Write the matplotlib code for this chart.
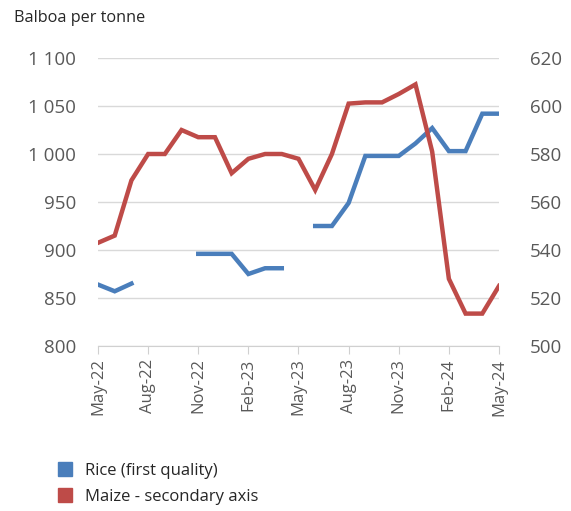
import matplotlib
matplotlib.use("Agg")
import matplotlib.pyplot as plt
from matplotlib.lines import Line2D
import numpy as np

months = ["May-22", "Jun-22", "Jul-22", "Aug-22", "Sep-22", "Oct-22", "Nov-22", "Dec-22",
          "Jan-23", "Feb-23", "Mar-23", "Apr-23", "May-23", "Jun-23", "Jul-23", "Aug-23",
          "Sep-23", "Oct-23", "Nov-23", "Dec-23", "Jan-24", "Feb-24", "Mar-24", "Apr-24", "May-24"]
nan = np.nan
rice = [864, 857, 865, nan, nan, nan, 896, 896, 896, 875, 881, 881, nan, 925, 925, 949,
        998, 998, 998, 1011, 1027, 1003, 1003, 1042, 1042]
maize = [543, 546, 569, 580, 580, 590, 587, 587, 572, 578, 580, 580, 578, 565, 580, 601,
         601.5, 601.5, 605, 609, 581, 528, 513.5, 513.5, 525]
tick_every = 3

plt.rcParams['font.family'] = ['Open Sans', 'DejaVu Sans']
W, H = 571, 511
fig = plt.figure(figsize=(W/100, H/100), dpi=100)
ax = fig.add_axes([98/W, 1-346/H, (499-98)/W, (346-58)/H])
ax2 = ax.twinx()

x = np.arange(len(months))
blue = "#4A7EBB"
red = "#BE4B48"
ax.plot(x, rice, color=blue, lw=3.2, solid_joinstyle='miter', zorder=3)
ax2.plot(x, maize, color=red, lw=3.2, solid_joinstyle='miter', zorder=3)

ax.set_xlim(0, len(months)-1)
ax.set_ylim(800, 1100)
ax.set_yticks(np.arange(800, 1101, 50))
ax.set_yticklabels([f"{v:,}".replace(",", " ") for v in range(800, 1101, 50)])
ax2.set_ylim(500, 620)
ax2.set_yticks(np.arange(500, 621, 20))

ax.set_xticks(x[::tick_every])
ax.set_xticklabels(months[::tick_every], rotation=90)
ax.grid(axis='y', color="#D9D9D9", lw=1)
ax.set_axisbelow(True)

for a in (ax, ax2):
    for s in ['top', 'left', 'right', 'bottom']:
        a.spines[s].set_visible(False)
ax.spines['bottom'].set_visible(True)
ax.spines['bottom'].set_color("#D0D0D0")

ax.tick_params(axis='y', length=0, pad=16, labelsize=13.5, labelcolor="#595959")
ax2.tick_params(axis='y', length=0, pad=22, labelsize=13.5, labelcolor="#595959")
ax.tick_params(axis='x', length=6, color="#D0D0D0", labelsize=12, labelcolor="#595959", pad=3)

fig.text(14/W, 1-18/H, "Balboa per tonne", fontsize=11.7, color="#262626", va='center', ha='left')

handles = [Line2D([], [], marker='s', color='none', markerfacecolor=blue, markeredgecolor=blue, markersize=9.5),
           Line2D([], [], marker='s', color='none', markerfacecolor=red, markeredgecolor=red, markersize=9.5)]
fig.legend(handles, ["Rice (first quality)", "Maize - secondary axis"], loc='upper left',
           bbox_to_anchor=(40/W, 1-448/H), frameon=False, fontsize=12, handlelength=1.2,
           handletextpad=0.6, labelspacing=0.6, labelcolor="#262626")

fig.savefig("out.png", dpi=100, facecolor='white')
